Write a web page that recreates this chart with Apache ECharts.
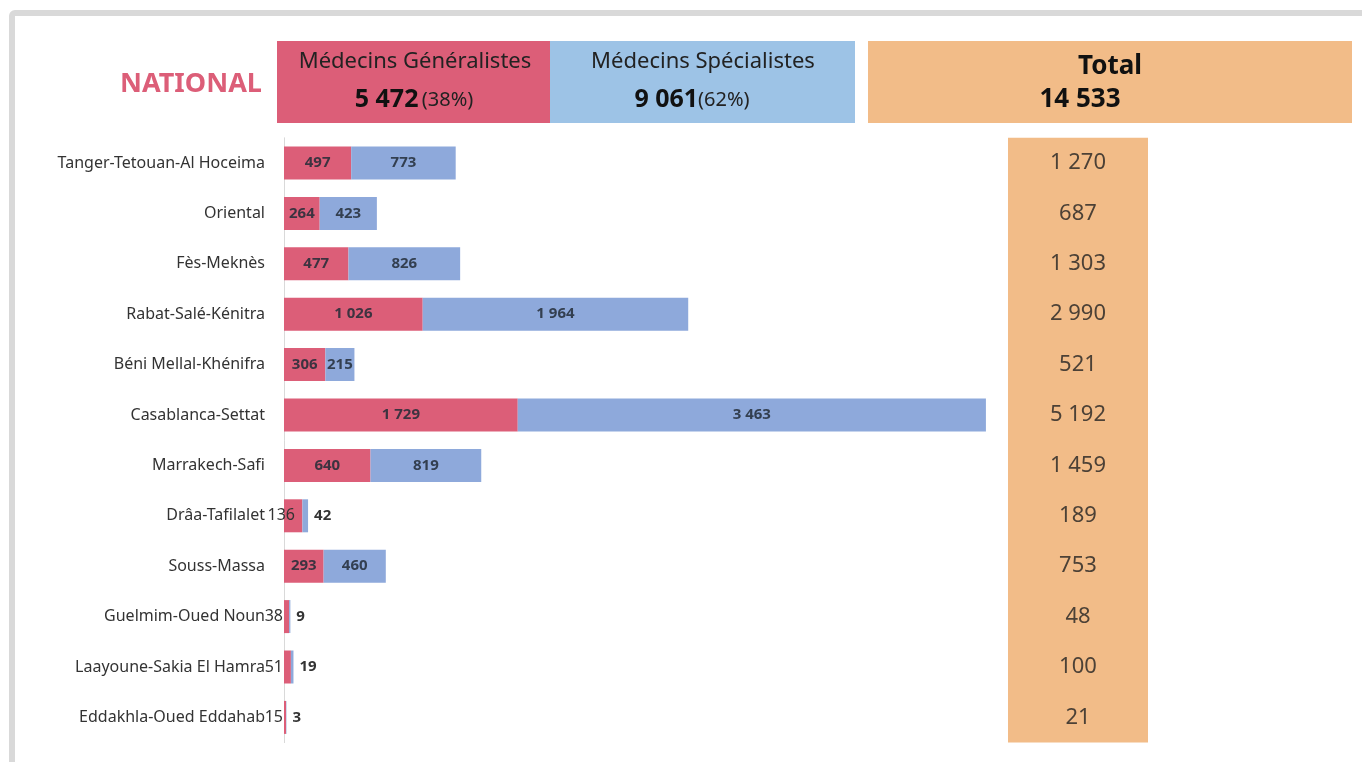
<!DOCTYPE html>
<html>
<head>
<meta charset="utf-8">
<script src="https://cdn.jsdelivr.net/npm/echarts@6/dist/echarts.min.js"></script>
<style>
html,body{margin:0;padding:0;background:#fff;}
#chart{width:1362px;height:762px;}
</style>
</head>
<body>
<div id="chart"></div>
<script>
// ---- data ----
const regions = ['Tanger-Tetouan-Al Hoceima','Oriental','Fès-Meknès','Rabat-Salé-Kénitra','Béni Mellal-Khénifra','Casablanca-Settat','Marrakech-Safi','Drâa-Tafilalet','Souss-Massa','Guelmim-Oued Noun','Laayoune-Sakia El Hamra','Eddakhla-Oued Eddahab'];
const generalistes = [497, 264, 477, 1026, 306, 1729, 640, 136, 293, 38, 51, 15];
const specialistes = [773, 423, 826, 1964, 215, 3463, 819, 42, 460, 9, 19, 3];
const totals = [1270, 687, 1303, 2990, 521, 5192, 1459, 189, 753, 48, 100, 21];
const headerTitles = ['Médecins Généralistes', 'Médecins Spécialistes'];
const headerValues = [5472, 9061];
const headerPct = [38, 62];
const grandTotal = 14533;
const nationalLabel = 'NATIONAL';

// ---- styling ----
const PINK = '#DC5E78', BLUE = '#8EA9DB', BLUE_HDR = '#9DC3E6', ORANGE = '#F2BC88';
const FONT = '"Noto Sans", "Open Sans", sans-serif';
const fmt = v => String(v).replace(/\B(?=(\d{3})+(?!\d))/g, ' ');

const gTop = 137.8, gHeight = 604.8;

const pinkData = generalistes.map(v => {
  if (v < 100) return { value: v, label: { position: 'left', distance: 1, fontWeight: 'normal', fontSize: 16, color: '#333' } };
  if (v < 200) return { value: v, label: { position: 'left', distance: -11, fontWeight: 'normal', fontSize: 16, color: '#333' } };
  return v;
});
const blueData = specialistes.map(v => {
  if (v < 100) return { value: v, label: { position: 'right', distance: 6, color: '#333' } };
  return v;
});

const chart = echarts.init(document.getElementById('chart'), null, { renderer: 'canvas' });
chart.setOption({
  backgroundColor: '#ffffff',
  animation: false,
  textStyle: { fontFamily: FONT },
  grid: [
    { left: 284, width: 703, top: gTop, height: gHeight, containLabel: false },
    { left: 1008, width: 140, top: gTop, height: gHeight, show: true, backgroundColor: ORANGE, borderWidth: 0 }
  ],
  xAxis: [
    { gridIndex: 0, type: 'value', min: 0, max: 5200, show: false, splitLine: { show: false } },
    { gridIndex: 1, type: 'value', min: 0, max: 1, show: false }
  ],
  yAxis: [
    { gridIndex: 0, type: 'category', data: regions, inverse: true,
      axisLine: { show: true, lineStyle: { color: '#d9d9d9', width: 1 } },
      axisTick: { show: false },
      axisLabel: { color: '#333333', fontSize: 16, fontFamily: FONT, margin: 19 } },
    { gridIndex: 1, type: 'category', data: regions, inverse: true, show: false }
  ],
  series: [
    { type: 'bar', name: headerTitles[0], stack: 'm', xAxisIndex: 0, yAxisIndex: 0,
      data: pinkData, barWidth: 33, itemStyle: { color: PINK },
      label: { show: true, position: 'inside', color: '#3d3340', fontSize: 15, fontWeight: 'bold',
        fontFamily: FONT, formatter: p => fmt(p.value) } },
    { type: 'bar', name: headerTitles[1], stack: 'm', xAxisIndex: 0, yAxisIndex: 0,
      data: blueData, barWidth: 33, itemStyle: { color: BLUE },
      label: { show: true, position: 'inside', color: '#333f50', fontSize: 15, fontWeight: 'bold',
        fontFamily: FONT, formatter: p => fmt(p.value) } },
    { type: 'scatter', xAxisIndex: 1, yAxisIndex: 1,
      data: totals.map((t, i) => [0.5, i]),
      symbolSize: 1, itemStyle: { color: 'rgba(0,0,0,0)' },
      label: { show: true, position: 'inside', color: '#222222', fontSize: 22, fontFamily: FONT,
        formatter: p => fmt(totals[p.dataIndex]) } }
  ],
  graphic: [
    { type: 'rect', shape: { x: 12, y: 13, width: 1420, height: 820, r: 3 },
      style: { fill: 'none', stroke: '#d9d9d9', lineWidth: 6 }, silent: true },
    { type: 'text', x: 191, y: 84, style: { text: nationalLabel, fill: PINK, font: 'bold 27px ' + FONT,
      align: 'center', verticalAlign: 'middle' } },
    { type: 'rect', shape: { x: 277, y: 41, width: 273, height: 82 }, style: { fill: PINK } },
    { type: 'rect', shape: { x: 550, y: 41, width: 305, height: 82 }, style: { fill: BLUE_HDR } },
    { type: 'rect', shape: { x: 868, y: 41, width: 484, height: 82 }, style: { fill: ORANGE } },
    { type: 'text', x: 415, y: 62, style: { text: headerTitles[0], fill: '#222', font: '22px ' + FONT,
      align: 'center', verticalAlign: 'middle' } },
    { type: 'text', x: 414, y: 100, style: {
      text: '{b|' + fmt(headerValues[0]) + '} {n|(' + headerPct[0] + '%)}',
      align: 'center', verticalAlign: 'middle',
      rich: { b: { font: 'bold 25px ' + FONT, fill: '#111' }, n: { font: '20px ' + FONT, fill: '#222' } } } },
    { type: 'text', x: 703, y: 62, style: { text: headerTitles[1], fill: '#222', font: '22px ' + FONT,
      align: 'center', verticalAlign: 'middle' } },
    { type: 'text', x: 692, y: 100, style: {
      text: '{b|' + fmt(headerValues[1]) + '}{n|(' + headerPct[1] + '%)}',
      align: 'center', verticalAlign: 'middle',
      rich: { b: { font: 'bold 25px ' + FONT, fill: '#111' }, n: { font: '20px ' + FONT, fill: '#222' } } } },
    { type: 'text', x: 1110, y: 67, style: { text: 'Total', fill: '#111', font: 'bold 26px ' + FONT,
      align: 'center', verticalAlign: 'middle' } },
    { type: 'text', x: 1080, y: 100, style: { text: fmt(grandTotal), fill: '#111', font: 'bold 26px ' + FONT,
      align: 'center', verticalAlign: 'middle' } }
  ]
});
</script>
</body>
</html>
